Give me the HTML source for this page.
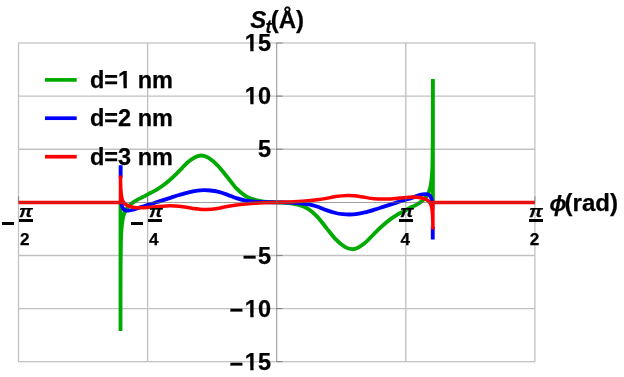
<!DOCTYPE html><html><head><meta charset="utf-8"><title>chart</title><style>
html,body{margin:0;padding:0;background:#fff;}
body{width:624px;height:377px;position:relative;overflow:hidden;font-family:"Liberation Sans", sans-serif;}
.t{position:absolute;white-space:nowrap;font-weight:bold;color:#000;font-family:"Liberation Sans", sans-serif;-webkit-text-stroke:0.25px #000;}
.i{font-style:italic;}
.m{position:relative;top:1.7px;margin-right:1.5px;}
.o{display:inline-block;line-height:1;vertical-align:baseline;clip-path:polygon(0 -1em,100% -1em,100% 0.672em,0.372em 0.672em,0.372em 2em,0.232em 2em,0.232em 0.672em,0 0.672em);}
.bar{position:absolute;background:#000;height:2.3px;}
</style></head><body>
<svg width="624" height="377" viewBox="0 0 624 377" style="position:absolute;left:0;top:0">
<line x1="147.6" y1="43.0" x2="147.6" y2="361.7" stroke="#c1c1c1" stroke-width="1.35"/>
<line x1="405.8" y1="43.0" x2="405.8" y2="361.7" stroke="#c1c1c1" stroke-width="1.35"/>
<line x1="18.5" y1="96.1" x2="534.9" y2="96.1" stroke="#c1c1c1" stroke-width="1.35"/>
<line x1="18.5" y1="149.2" x2="534.9" y2="149.2" stroke="#c1c1c1" stroke-width="1.35"/>
<line x1="18.5" y1="255.5" x2="534.9" y2="255.5" stroke="#c1c1c1" stroke-width="1.35"/>
<line x1="18.5" y1="308.6" x2="534.9" y2="308.6" stroke="#c1c1c1" stroke-width="1.35"/>
<rect x="18.5" y="43.0" width="516.4" height="318.7" fill="none" stroke="#c1c1c1" stroke-width="1.25"/>
<path d="M120.50,202.85 L120.50,330.90 C120.50,325.75 120.51,310.98 120.53,300.00 C120.55,289.02 120.55,275.00 120.62,265.00 C120.69,255.00 120.79,246.17 120.95,240.00 C121.11,233.83 121.34,231.25 121.60,228.00 C121.86,224.75 122.17,222.58 122.50,220.50 C122.83,218.42 123.15,217.05 123.60,215.50 C124.05,213.95 124.55,212.52 125.20,211.20 C125.85,209.88 126.65,208.70 127.50,207.60 C128.35,206.50 129.35,205.47 130.30,204.60 C131.25,203.72 131.97,203.18 133.20,202.35 C134.43,201.52 135.88,200.59 137.70,199.60 C139.52,198.61 141.98,197.50 144.10,196.40 C146.22,195.30 148.28,194.13 150.40,193.00 C152.52,191.87 154.67,190.88 156.80,189.60 C158.93,188.32 161.08,186.87 163.20,185.30 C165.32,183.73 167.38,182.02 169.50,180.20 C171.62,178.38 173.77,176.47 175.90,174.40 C178.03,172.33 180.18,169.93 182.30,167.80 C184.42,165.67 186.48,163.35 188.60,161.60 C190.72,159.85 192.90,158.32 195.00,157.30 C197.10,156.28 198.93,155.42 201.20,155.50 C203.47,155.58 205.83,156.12 208.60,157.80 C211.37,159.48 214.72,162.43 217.80,165.60 C220.88,168.77 224.00,173.00 227.10,176.80 C230.20,180.60 233.30,185.18 236.40,188.40 C239.50,191.62 242.62,194.20 245.70,196.10 C248.78,198.00 251.82,198.87 254.90,199.80 C257.98,200.73 260.57,201.27 264.20,201.70 C267.83,202.12 272.53,202.13 276.70,202.35 C280.87,202.57 285.57,202.57 289.20,203.00 C292.83,203.43 295.42,203.97 298.50,204.90 C301.58,205.83 304.62,206.70 307.70,208.60 C310.78,210.50 313.90,213.08 317.00,216.30 C320.10,219.52 323.20,224.10 326.30,227.90 C329.40,231.70 332.52,235.93 335.60,239.10 C338.68,242.27 342.03,245.22 344.80,246.90 C347.57,248.58 349.93,249.12 352.20,249.20 C354.47,249.28 356.30,248.42 358.40,247.40 C360.50,246.38 362.68,244.85 364.80,243.10 C366.92,241.35 368.98,239.03 371.10,236.90 C373.22,234.77 375.37,232.37 377.50,230.30 C379.63,228.23 381.78,226.32 383.90,224.50 C386.02,222.68 388.08,220.97 390.20,219.40 C392.32,217.83 394.47,216.38 396.60,215.10 C398.73,213.82 400.88,212.83 403.00,211.70 C405.12,210.57 407.18,209.40 409.30,208.30 C411.42,207.20 413.88,206.09 415.70,205.10 C417.52,204.11 418.97,203.18 420.20,202.35 C421.43,201.52 422.15,200.97 423.10,200.10 C424.05,199.22 425.05,198.20 425.90,197.10 C426.75,196.00 427.55,194.82 428.20,193.50 C428.85,192.18 429.35,190.75 429.80,189.20 C430.25,187.65 430.57,186.28 430.90,184.20 C431.23,182.12 431.54,179.95 431.80,176.70 C432.06,173.45 432.29,170.87 432.45,164.70 C432.61,158.53 432.71,149.70 432.78,139.70 C432.85,129.70 432.85,114.83 432.87,104.70 C432.89,94.57 432.89,83.20 432.90,78.90 L432.90,201.85" fill="none" stroke="#00aa00" stroke-width="3.85" stroke-linejoin="miter" stroke-miterlimit="2" stroke-linecap="butt"/>
<path d="M120.65,165.30 L120.65,178.00 M120.70,196.00 C120.75,196.33 120.85,196.58 121.00,198.00 C121.15,199.42 121.30,202.85 121.60,204.50 C121.90,206.15 122.27,207.00 122.80,207.90 C123.33,208.80 123.88,209.45 124.80,209.90 C125.72,210.35 126.73,210.67 128.30,210.60 C129.87,210.53 132.10,210.10 134.20,209.50 C136.30,208.90 138.20,207.88 140.90,207.00 C143.60,206.12 147.22,205.18 150.40,204.20 C153.58,203.22 156.82,202.12 160.00,201.10 C163.18,200.08 166.32,199.12 169.50,198.10 C172.68,197.08 175.92,195.97 179.10,195.00 C182.28,194.03 185.53,193.03 188.60,192.30 C191.67,191.57 195.02,190.95 197.50,190.60 C199.98,190.25 201.33,190.22 203.50,190.20 C205.67,190.18 208.12,190.25 210.50,190.50 C212.88,190.75 215.03,191.02 217.80,191.70 C220.57,192.38 224.00,193.52 227.10,194.60 C230.20,195.68 233.30,197.20 236.40,198.20 C239.50,199.20 242.62,200.03 245.70,200.60 C248.78,201.17 251.82,201.34 254.90,201.60 C257.98,201.86 260.57,202.03 264.20,202.15 C267.83,202.28 272.53,202.28 276.70,202.35 C280.87,202.42 285.57,202.42 289.20,202.55 C292.83,202.67 295.42,202.84 298.50,203.10 C301.58,203.36 304.62,203.53 307.70,204.10 C310.78,204.67 313.90,205.50 317.00,206.50 C320.10,207.50 323.20,209.02 326.30,210.10 C329.40,211.18 332.83,212.32 335.60,213.00 C338.37,213.68 340.52,213.95 342.90,214.20 C345.28,214.45 347.73,214.52 349.90,214.50 C352.07,214.48 353.42,214.45 355.90,214.10 C358.38,213.75 361.73,213.13 364.80,212.40 C367.87,211.67 371.12,210.67 374.30,209.70 C377.48,208.73 380.72,207.62 383.90,206.60 C387.08,205.58 390.22,204.62 393.40,203.60 C396.58,202.58 399.82,201.48 403.00,200.50 C406.18,199.52 409.80,198.58 412.50,197.70 C415.20,196.82 417.10,195.80 419.20,195.20 C421.30,194.60 423.53,194.17 425.10,194.10 C426.67,194.03 427.68,194.35 428.60,194.80 C429.52,195.25 430.07,195.90 430.60,196.80 C431.13,197.70 431.50,198.55 431.80,200.20 C432.10,201.85 432.25,205.28 432.40,206.70 C432.55,208.12 432.65,208.37 432.70,208.70 M432.75,239.40 L432.75,226.70" fill="none" stroke="#0000ff" stroke-width="3.85" stroke-linejoin="miter" stroke-miterlimit="2" stroke-linecap="butt"/>
<path d="M18.50,202.35 L120.50,202.35 L120.50,175.40 C120.52,176.67 120.53,180.57 120.60,183.00 C120.67,185.43 120.75,187.83 120.90,190.00 C121.05,192.17 121.25,194.37 121.50,196.00 C121.75,197.63 122.00,198.70 122.40,199.80 C122.80,200.90 123.00,201.63 123.90,202.60 C124.80,203.57 126.08,204.81 127.80,205.60 C129.52,206.39 132.07,207.00 134.20,207.35 C136.33,207.70 137.38,207.79 140.60,207.70 C143.82,207.61 149.22,207.12 153.50,206.80 C157.78,206.48 162.03,205.92 166.30,205.80 C170.57,205.68 174.83,205.72 179.10,206.10 C183.37,206.48 188.67,207.62 191.90,208.10 C195.13,208.58 196.18,208.78 198.50,209.00 C200.82,209.22 202.58,209.52 205.80,209.40 C209.02,209.28 214.25,208.80 217.80,208.30 C221.35,207.80 224.00,206.95 227.10,206.40 C230.20,205.85 233.30,205.40 236.40,205.00 C239.50,204.60 242.62,204.30 245.70,204.00 C248.78,203.70 251.82,203.42 254.90,203.20 C257.98,202.98 260.57,202.84 264.20,202.70 C267.83,202.56 272.53,202.47 276.70,202.35 C280.87,202.23 285.57,202.14 289.20,202.00 C292.83,201.86 295.42,201.72 298.50,201.50 C301.58,201.28 304.62,201.00 307.70,200.70 C310.78,200.40 313.90,200.10 317.00,199.70 C320.10,199.30 323.20,198.85 326.30,198.30 C329.40,197.75 332.05,196.90 335.60,196.40 C339.15,195.90 344.38,195.42 347.60,195.30 C350.82,195.18 352.58,195.48 354.90,195.70 C357.22,195.92 358.27,196.12 361.50,196.60 C364.73,197.08 370.03,198.22 374.30,198.60 C378.57,198.98 382.83,199.02 387.10,198.90 C391.37,198.78 395.62,198.22 399.90,197.90 C404.18,197.58 409.58,197.09 412.80,197.00 C416.02,196.91 417.07,197.00 419.20,197.35 C421.33,197.70 423.88,198.31 425.60,199.10 C427.32,199.89 428.60,201.13 429.50,202.10 C430.40,203.07 430.60,203.80 431.00,204.90 C431.40,206.00 431.65,207.07 431.90,208.70 C432.15,210.33 432.35,212.53 432.50,214.70 C432.65,216.87 432.73,219.27 432.80,221.70 C432.87,224.13 432.88,228.03 432.90,229.30 L432.90,202.35 L534.90,202.35" fill="none" stroke="#ff0000" stroke-width="3.50" stroke-linejoin="miter" stroke-miterlimit="2" stroke-linecap="butt" transform="translate(0,0.1)"/>
<line x1="276.7" y1="43.0" x2="276.7" y2="361.7" stroke="#666666" stroke-width="1.15" stroke-opacity="0.62"/>
<line x1="18.5" y1="202.5" x2="122.5" y2="202.5" stroke="#666666" stroke-width="1.0" stroke-opacity="0.38"/>
<line x1="122.5" y1="202.5" x2="430.9" y2="202.5" stroke="#666666" stroke-width="1.0" stroke-opacity="0.62"/>
<line x1="430.9" y1="202.5" x2="534.9" y2="202.5" stroke="#666666" stroke-width="1.0" stroke-opacity="0.38"/>
<line x1="276.7" y1="43.0" x2="282.7" y2="43.0" stroke="#666666" stroke-width="1.15" stroke-opacity="0.62"/>
<line x1="276.7" y1="96.1" x2="282.7" y2="96.1" stroke="#666666" stroke-width="1.15" stroke-opacity="0.62"/>
<line x1="276.7" y1="149.2" x2="282.7" y2="149.2" stroke="#666666" stroke-width="1.15" stroke-opacity="0.62"/>
<line x1="276.7" y1="255.5" x2="282.7" y2="255.5" stroke="#666666" stroke-width="1.15" stroke-opacity="0.62"/>
<line x1="276.7" y1="308.6" x2="282.7" y2="308.6" stroke="#666666" stroke-width="1.15" stroke-opacity="0.62"/>
<line x1="276.7" y1="361.7" x2="282.7" y2="361.7" stroke="#666666" stroke-width="1.15" stroke-opacity="0.62"/>
<line x1="18.5" y1="202.3" x2="18.5" y2="196.3" stroke="#666666" stroke-width="1.15" stroke-opacity="0.62"/>
<line x1="147.6" y1="202.3" x2="147.6" y2="196.3" stroke="#666666" stroke-width="1.15" stroke-opacity="0.62"/>
<line x1="405.8" y1="202.3" x2="405.8" y2="196.3" stroke="#666666" stroke-width="1.15" stroke-opacity="0.62"/>
<line x1="534.9" y1="202.3" x2="534.9" y2="196.3" stroke="#666666" stroke-width="1.15" stroke-opacity="0.62"/>
<line x1="45" y1="79.9" x2="76.7" y2="79.9" stroke="#00aa00" stroke-width="3.7"/>
<line x1="45" y1="118.2" x2="76.7" y2="118.2" stroke="#0000ff" stroke-width="3.7"/>
<line x1="45" y1="156.7" x2="76.7" y2="156.7" stroke="#ff0000" stroke-width="3.7"/>
</svg>
<div id="labels" style="position:absolute;left:0;top:0;width:624px;height:377px;will-change:transform;">
<div class="t" style="right:353.0px;top:30.2px;font-size:23.5px;line-height:27.0px;"><span class="o">1</span>5</div>
<div class="t" style="right:353.0px;top:83.3px;font-size:23.5px;line-height:27.0px;"><span class="o">1</span>0</div>
<div class="t" style="right:353.0px;top:136.4px;font-size:23.5px;line-height:27.0px;">5</div>
<div class="t" style="right:353.0px;top:242.7px;font-size:23.5px;line-height:27.0px;"><span class="m">−</span>5</div>
<div class="t" style="right:353.0px;top:295.8px;font-size:23.5px;line-height:27.0px;"><span class="m">−</span><span class="o">1</span>0</div>
<div class="t" style="right:353.0px;top:348.9px;font-size:23.5px;line-height:27.0px;"><span class="m">−</span><span class="o">1</span>5</div>
<div class="t" style="left:250.2px;top:6.1px;font-size:24.0px;line-height:27.6px;"><span class="i">S</span><span class="i" style="font-size:18px;position:relative;top:4.6px;margin-left:-0.6px;margin-right:-0.9px;">t</span>(Å)</div>
<div class="t" style="left:549.6px;top:190.6px;font-size:22.5px;line-height:25.9px;"><span class="i">ϕ</span></div>
<div class="t" style="left:564.6px;top:189.2px;font-size:24.0px;line-height:27.6px;">(rad)</div>
<div class="t" style="left:90.0px;top:66.9px;font-size:23.5px;line-height:27.0px;">d=<span class="o">1</span> nm</div>
<div class="t" style="left:90.0px;top:105.2px;font-size:23.5px;line-height:27.0px;">d=2 nm</div>
<div class="t" style="left:90.0px;top:143.6px;font-size:23.5px;line-height:27.0px;">d=3 nm</div>
<div class="bar" style="left:19.0px;top:219.2px;width:14.0px;height:2.4px;"></div>
<div class="t" style="left:19.4px;top:201.8px;font-size:16.5px;line-height:19.0px;transform:scaleX(1.17);transform-origin:0 0;"><span class="i">π</span></div>
<div class="t" style="left:20.0px;top:229.9px;font-size:17.2px;line-height:19.8px;">2</div>
<div class="bar" style="left:2.0px;top:221.7px;width:11.7px;height:3.1px;"></div>
<div class="bar" style="left:148.1px;top:219.2px;width:14.0px;height:2.4px;"></div>
<div class="t" style="left:148.5px;top:201.8px;font-size:16.5px;line-height:19.0px;transform:scaleX(1.17);transform-origin:0 0;"><span class="i">π</span></div>
<div class="t" style="left:149.1px;top:229.9px;font-size:17.2px;line-height:19.8px;">4</div>
<div class="bar" style="left:131.1px;top:221.7px;width:11.7px;height:3.1px;"></div>
<div class="bar" style="left:399.4px;top:219.2px;width:14.0px;height:2.4px;"></div>
<div class="t" style="left:399.8px;top:201.8px;font-size:16.5px;line-height:19.0px;transform:scaleX(1.17);transform-origin:0 0;"><span class="i">π</span></div>
<div class="t" style="left:400.4px;top:229.9px;font-size:17.2px;line-height:19.8px;">4</div>
<div class="bar" style="left:528.8px;top:219.2px;width:14.0px;height:2.4px;"></div>
<div class="t" style="left:529.2px;top:201.8px;font-size:16.5px;line-height:19.0px;transform:scaleX(1.17);transform-origin:0 0;"><span class="i">π</span></div>
<div class="t" style="left:529.8px;top:229.9px;font-size:17.2px;line-height:19.8px;">2</div>
</div>
</body></html>
